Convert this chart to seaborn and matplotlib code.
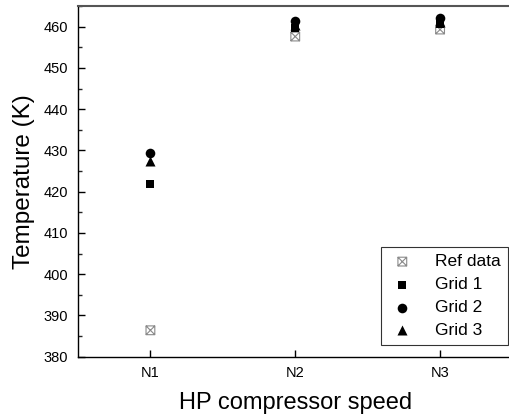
import numpy as np
import pandas as pd
import matplotlib
matplotlib.use("Agg")
import matplotlib.pyplot as plt
from matplotlib.path import Path
from matplotlib.ticker import MultipleLocator
import seaborn as sns

sns.set_theme(style="ticks")
plt.rcParams['font.family'] = ['Liberation Sans', 'DejaVu Sans']
plt.rcParams['text.color'] = 'black'
plt.rcParams['axes.labelcolor'] = 'black'

categories = ["N1", "N2", "N3"]
ref_data = [386.4, 457.6, 459.3]
grid1 = [421.8, 459.6, 460.6]
grid2 = [429.3, 461.3, 462.2]
grid3 = [427.5, 460.3, 461.2]

x = np.arange(len(categories))
df = pd.DataFrame({"x": np.tile(x, 4),
                   "T": ref_data + grid1 + grid2 + grid3,
                   "series": ["Ref data"] * 3 + ["Grid 1"] * 3 + ["Grid 2"] * 3 + ["Grid 3"] * 3})

boxx = Path([(-1, -1), (1, -1), (1, 1), (-1, 1), (-1, -1),
             (-1, -1), (1, 1), (-1, 1), (1, -1)],
            [Path.MOVETO, Path.LINETO, Path.LINETO, Path.LINETO, Path.CLOSEPOLY,
             Path.MOVETO, Path.LINETO, Path.MOVETO, Path.LINETO])

fig = plt.figure(figsize=(5.1, 4.17), dpi=100)
ax = fig.add_axes([78 / 510, 1 - 356.7 / 417, (512.5 - 78) / 510, (356.7 - 6) / 417])

sub = df[df.series == "Ref data"]
sns.scatterplot(data=sub, x="x", y="T", marker=boxx, s=40, facecolor="none",
                edgecolor="#8a8a8a", linewidth=0.8, ax=ax, label="Ref data", zorder=2)
for name, m, s in [("Grid 1", "s", 36), ("Grid 2", "o", 48), ("Grid 3", "^", 52)]:
    sub = df[df.series == name]
    sns.scatterplot(data=sub, x="x", y="T", marker=m, s=s, color="black",
                    edgecolor="black", linewidth=0, ax=ax, label=name, zorder=3)

ax.set_xlim(-0.5, 2.5)
ax.set_ylim(380, 465)
ax.set_xticks(x)
ax.set_xticklabels(categories)
ax.yaxis.set_major_locator(MultipleLocator(10))
ax.yaxis.set_minor_locator(MultipleLocator(5))
ax.tick_params(axis="both", which="major", direction="in", length=5, width=1,
               labelsize=10.5, colors="black")
ax.tick_params(axis="y", which="minor", direction="in", length=3, width=1)
ax.tick_params(axis="x", pad=7)
ax.tick_params(axis="y", pad=7)
ax.set_xlabel("HP compressor speed", fontsize=17, labelpad=8)
ax.set_ylabel("Temperature (K)", fontsize=17.5, labelpad=6)
for sp in ["left", "bottom"]:
    ax.spines[sp].set_color("black")
    ax.spines[sp].set_linewidth(1.0)
ax.spines["top"].set_color("#555555")
ax.spines["top"].set_linewidth(1.5)
ax.spines["right"].set_color("#555555")
ax.spines["right"].set_linewidth(1.5)

leg = ax.legend(loc="lower right", bbox_to_anchor=(508 / 510, (417 - 345) / 417),
                bbox_transform=fig.transFigure, borderaxespad=0, fancybox=False,
                frameon=True, edgecolor="black", fontsize=12.5, handletextpad=1.1,
                labelspacing=0.45, borderpad=0.4, handlelength=1.6)
leg.get_frame().set_linewidth(0.8)
for t in leg.get_texts():
    t.set_color("black")

fig.savefig("out.png", dpi=100)
